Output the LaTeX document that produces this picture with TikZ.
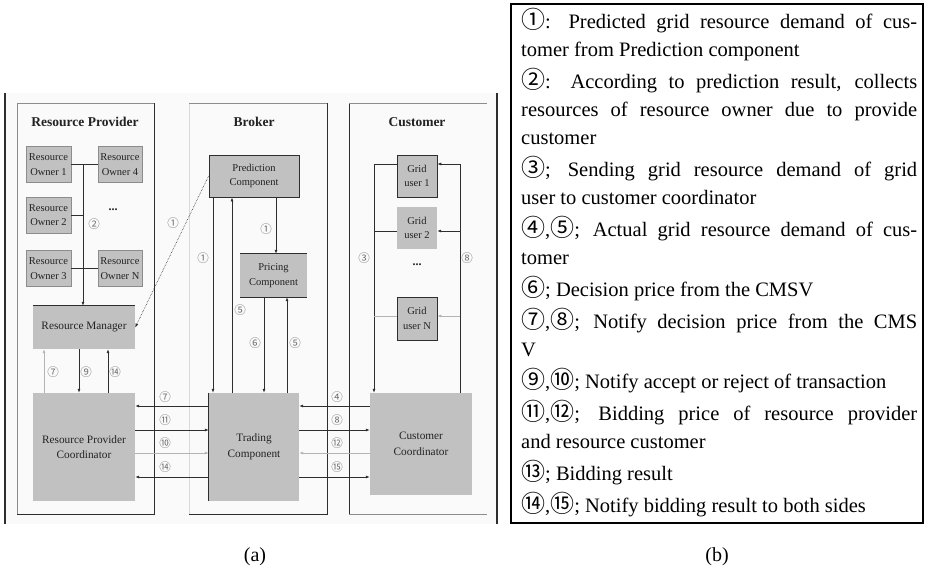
\documentclass[tikz,border=0pt]{standalone}
\usepackage{fontspec}
\setmainfont{Liberation Serif}
\newfontfamily\circfont{Noto Sans CJK JP}
\usetikzlibrary{arrows.meta,calc}
\definecolor{boxgray}{HTML}{C1C1C1}
\definecolor{lndark}{HTML}{2E2E2E}
\definecolor{lnlight}{HTML}{B4B4B4}
\definecolor{edgegray}{HTML}{8C8C8C}
\definecolor{numgray}{HTML}{707070}
\definecolor{txtdark}{HTML}{222222}
\newcommand{\cnum}[1]{{\circfont\fontsize{24}{24}\selectfont #1}}
\tikzset{
  >={Latex[length=4pt,width=3pt]},
  bx/.style={fill=boxgray, inner sep=0pt, align=center, text=txtdark,
    font=\fontsize{10.5}{14.5}\selectfont},
  bigbx/.style={bx, font=\fontsize{11.3}{15.5}\selectfont},
  num/.style={font=\circfont\fontsize{11.5}{11.5}\selectfont, text=numgray, inner sep=0pt},
  ln/.style={draw=lndark, line width=0.7pt},
  lnl/.style={draw=lnlight, line width=0.7pt},
  paneltitle/.style={font=\bfseries\fontsize{13.5}{15}\selectfont, text=txtdark},
  legline/.style={anchor=base west, inner sep=0pt, font=\fontsize{20.5}{24}\selectfont},
  captxt/.style={font=\fontsize{20}{24}\selectfont, inner sep=0pt},
}
\newcommand{\jl}[1]{\makebox[396pt][s]{#1}}
\begin{document}
\begin{tikzpicture}[x=1pt,y=-1pt]
\useasboundingbox (0,0) rectangle (927,573);

% ---------- (a) frame ----------
\fill[black!2] (5,93) rectangle (497,524);
\draw[lndark, line width=1.1pt] (5,93) -- (5,524);
\draw[lndark, line width=1.1pt] (497,93) -- (497,524);

% panels
\draw[edgegray, line width=0.7pt] (17,514) -- (17,103) -- (154,103);
\draw[lndark, line width=0.9pt] (154,103) -- (154,514) -- (17,514);
\draw[black!15, line width=0.7pt] (189,514) -- (189,103);
\draw[edgegray, line width=0.7pt] (189,103) -- (327,103);
\draw[lndark, line width=0.9pt] (327,103) -- (327,514) -- (189,514);
\draw[lndark, line width=0.9pt] (349,103) -- (349,514);
\draw[edgegray, line width=0.7pt] (349,103) -- (487,103);
\draw[edgegray, line width=0.7pt] (349,514) -- (487,514);

\node[paneltitle] (tRP) at (85,122) {Resource Provider};
\node[paneltitle] (tBR) at (254,122) {Broker};
\node[paneltitle] (tCU) at (417,122) {Customer};

% ---------- Resource provider ----------
\node[bx, draw=edgegray, line width=0.5pt, minimum width=45pt, minimum height=36pt] (ro1) at (48.5,164.5) {Resource\\Owner 1};
\node[bx, draw=edgegray, line width=0.5pt, minimum width=44pt, minimum height=36pt] (ro4) at (120,164.5) {Resource\\Owner 4};
\node[bx, draw=edgegray, line width=0.5pt, minimum width=45pt, minimum height=36pt] (ro2) at (48.5,215) {Resource\\Owner 2};
\node[bx, draw=edgegray, line width=0.5pt, minimum width=45pt, minimum height=36pt] (ro3) at (48.5,268.5) {Resource\\Owner 3};
\node[bx, draw=edgegray, line width=0.5pt, minimum width=44pt, minimum height=36pt] (ron) at (120,268.5) {Resource\\Owner N};
\node[font=\bfseries\fontsize{12}{12}\selectfont, text=txtdark] (dotsRP) at (113,210) {...};

\node[bigbx, minimum width=102pt, minimum height=43pt] (rm) at (84,327.5) {Resource Manager};
\draw[lndark, line width=0.9pt] (rm.north west) -- (rm.north east);
\node[bigbx, minimum width=102pt, minimum height=108pt] (rpc) at (84,447) {Resource Provider\\Coordinator};

% ---------- Broker ----------
\node[bx, draw=lndark, line width=0.8pt, minimum width=90pt, minimum height=42pt] (pred) at (254,176) {Prediction\\Component};
\node[bx, minimum width=67pt, minimum height=43pt] (pricing) at (273.5,275.5) {Pricing\\Component};
\draw[lndark, line width=0.8pt] (pricing.north west) -- (pricing.north east);
\draw[lndark, line width=0.8pt] (pricing.south west) -- (pricing.south east);
\node[bigbx, minimum width=90pt, minimum height=108pt] (tc) at (254,447) {Trading\\Component};
\draw[lndark, line width=0.9pt] (tc.north west) -- (tc.south west);

% ---------- Customer ----------
\node[bx, draw=lndark, line width=0.7pt, minimum width=40pt, minimum height=42pt] (gu1) at (417,176) {Grid\\user 1};
\node[bx, minimum width=40pt, minimum height=42pt] (gu2) at (417,228) {Grid\\user 2};
\node[font=\bfseries\fontsize{12}{12}\selectfont, text=txtdark] (dotsCU) at (417,265) {...};
\node[bx, draw=lndark, line width=0.7pt, minimum width=40pt, minimum height=43pt] (gun) at (417,318.5) {Grid\\user N};
\node[bigbx, minimum width=102pt, minimum height=102pt] (cc) at (421,444) {Customer\\Coordinator};

% ---------- helper coordinates ----------
\coordinate (bus) at (83,164.5);
\coordinate (rmA) at (44,0);
\coordinate (rmB) at (79,0);
\coordinate (rmC) at (108,0);
\coordinate (brA) at (213,0);
\coordinate (brB) at (232,0);
\coordinate (brC) at (264,0);
\coordinate (brD) at (287,0);
\coordinate (brE) at (276,0);
\coordinate (cuL) at (374,0);
\coordinate (cuR) at (460,0);
\coordinate (h1) at (0,406);
\coordinate (h2) at (0,430);
\coordinate (h3) at (0,453);
\coordinate (h4) at (0,477);
\coordinate (g1w) at ([yshift=12pt]gu1.west);
\coordinate (g1e) at ([yshift=12pt]gu1.east);
\coordinate (g2w) at ([yshift=-3pt]gu2.west);
\coordinate (g2e) at ([yshift=-3pt]gu2.east);
\coordinate (gNw) at ([yshift=2.5pt]gun.west);
\coordinate (gNe) at ([yshift=2.5pt]gun.east);

% ---------- connectors: resource provider ----------
\draw[ln] (ro1.east) -- (ro4.west);
\draw[ln] (ro2.east) -- (ro2.east -| bus);
\draw[ln] (ro3.east) -- (ron.west);
\draw[ln,->] (bus) -- (rm.north -| bus);
\draw[lnl,->] (rpc.north -| rmA) -- (rm.south -| rmA);
\draw[ln,->] (rm.south -| rmB) -- (rpc.north -| rmB);
\draw[ln,->] (rpc.north -| rmC) -- (rm.south -| rmC);
\draw[lndark, line width=0.6pt, densely dotted, ->] (pred.west) -- (rm.east);

% ---------- connectors: broker ----------
\draw[ln,->] (pred.south -| brE) -- (pricing.north -| brE);
\draw[ln,->] (pred.south -| brA) -- (tc.north -| brA);
\draw[ln,->] (tc.north -| brB) -- (pred.south -| brB);
\draw[ln,->] (pricing.south -| brC) -- (tc.north -| brC);
\draw[ln,->] (tc.north -| brD) -- (pricing.south -| brD);

% ---------- connectors: coordinators ----------
\draw[ln,->] (tc.west |- h1) -- (rpc.east |- h1);
\draw[ln,->] (rpc.east |- h2) -- (tc.west |- h2);
\draw[lnl,->] (rpc.east |- h3) -- (tc.west |- h3);
\draw[ln,->] (tc.west |- h4) -- (rpc.east |- h4);
\draw[ln,->] (cc.west |- h1) -- (tc.east |- h1);
\draw[ln,->] (tc.east |- h2) -- (cc.west |- h2);
\draw[lnl,->] (cc.west |- h3) -- (tc.east |- h3);
\draw[ln,->] (tc.east |- h4) -- (cc.west |- h4);

% ---------- connectors: customer ----------
\draw[ln] (g1w) -- (g1w -| cuL);
\draw[ln,->] (g1w -| cuL) -- (cc.north -| cuL);
\draw[ln] (g2w) -- (g2w -| cuL);
\draw[lnl] (gNw) -- (gNw -| cuL);
\draw[ln] (cc.north -| cuR) -- (g1e -| cuR);
\draw[ln,->] (g1e -| cuR) -- (g1e);
\draw[ln,->] (g2e -| cuR) -- (g2e);
\draw[lnl,->] (gNe -| cuR) -- (gNe);

% ---------- step numbers ----------
\node[num] (n2a) at (94,224) {②};
\node[num] (n1a) at (173,223) {①};
\node[num] (n7b) at (53,372) {⑦};
\node[num] (n9a) at (86,372) {⑨};
\node[num] (n14b) at (115,372) {⑭};
\node[num] (n1b) at (266,229) {①};
\node[num] (n1c) at (203,258) {①};
\node[num] (n5a) at (240,310) {⑤};
\node[num] (n6a) at (255,343) {⑥};
\node[num] (n5b) at (295,343) {⑤};
\node[num] (n7a) at (165,397) {⑦};
\node[num] (n11a) at (165,420) {⑪};
\node[num] (n10a) at (165,443) {⑩};
\node[num] (n14a) at (165,467) {⑭};
\node[num] (n4a) at (337,397) {④};
\node[num] (n8a) at (337,420) {⑧};
\node[num] (n12a) at (337,443) {⑫};
\node[num] (n15a) at (337,467) {⑮};
\node[num] (n3a) at (364,258) {③};
\node[num] (n8b) at (467,258) {⑧};

% ---------- (b) legend ----------
\draw[black, line width=1.2pt] (511,4) rectangle (923,523);
\node[legline] (l1) at (521,28) {\jl{\cnum{①}: Predicted grid resource demand of cus-}};
\node[legline] (l2) at (521,56) {tomer from Prediction component};
\node[legline] (l3) at (521,88) {\jl{\cnum{②}: According to prediction result, collects}};
\node[legline] (l4) at (521,116) {\jl{resources of resource owner due to provide}};
\node[legline] (l5) at (521,144) {customer};
\node[legline] (l6) at (521,176) {\jl{\cnum{③}; Sending grid resource demand of grid}};
\node[legline] (l7) at (521,204) {user to customer coordinator};
\node[legline] (l8) at (521,236) {\jl{\cnum{④},\cnum{⑤}; Actual grid resource demand of cus-}};
\node[legline] (l9) at (521,264) {tomer};
\node[legline] (l10) at (521,296) {\cnum{⑥}; Decision price from the CMSV};
\node[legline] (l11) at (521,328) {\jl{\cnum{⑦},\cnum{⑧}; Notify decision price from the CMS}};
\node[legline] (l12) at (521,356) {V};
\node[legline] (l13) at (521,388) {\cnum{⑨},\cnum{⑩}; Notify accept or reject of transaction};
\node[legline] (l14) at (521,420) {\jl{\cnum{⑪},\cnum{⑫}; Bidding price of resource provider}};
\node[legline] (l15) at (521,448) {and resource customer};
\node[legline] (l16) at (521,480) {\cnum{⑬}; Bidding result};
\node[legline] (l17) at (521,512) {\cnum{⑭},\cnum{⑮}; Notify bidding result to both sides};

% ---------- captions ----------
\node[captxt] (capa) at (255,557) {(a)};
\node[captxt] (capb) at (717,557) {(b)};
\end{tikzpicture}
\end{document}
